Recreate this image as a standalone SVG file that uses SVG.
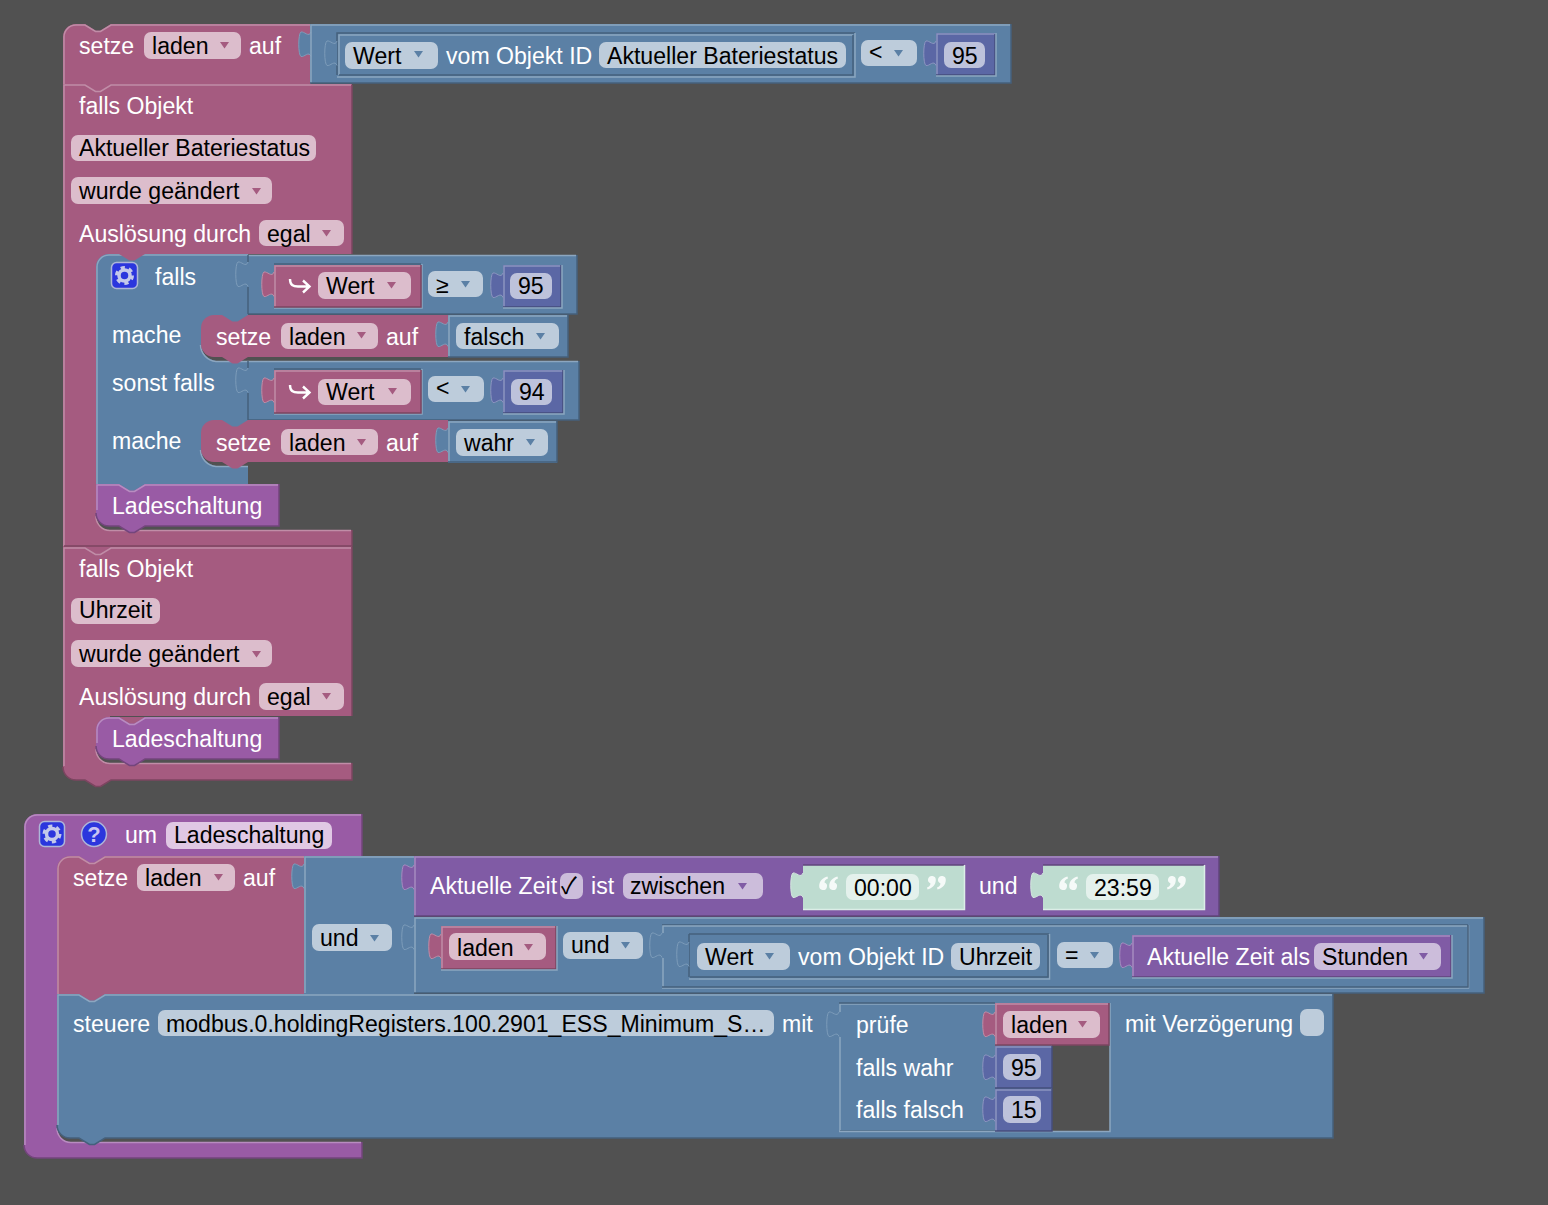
<svg xmlns="http://www.w3.org/2000/svg" width="1548" height="1205" viewBox="0 0 1548 1205">
<style>
text{font-family:"Liberation Sans",Arial,sans-serif;font-size:23.1px;white-space:pre}
.w{fill:#fff}.k{fill:#000}
.bg{fill:#515151}
.P{fill:#a55b80}.B{fill:#5b80a5}.U{fill:#995ba5}.V{fill:#805ba5}.N{fill:#5b67a5}.G{fill:#bedcd0}
.fP{fill:#dcbdcc}.fB{fill:#bdccdb}.fU{fill:#e0c8e4}.fV{fill:#ccbddb}.fN{fill:#bdc2db}.fG{fill:#e4f1ec}
.aP{fill:#a55b80}.aB{fill:#5b80a5}.aV{fill:#805ba5}.aU{fill:#995ba5}
.L,.D{fill:none;stroke-width:1.5}
.lP{stroke:#c08da7}.dP{stroke:#7c4560}.lB{stroke:#8ca6c0}.dB{stroke:#45607c}.lU{stroke:#b88cc0}.dU{stroke:#73457c}.lV{stroke:#a58cc0}.dV{stroke:#60457c}.lN{stroke:#8c95c0}.dN{stroke:#454d7c}.lG{stroke:#dcede7}.dG{stroke:#8fa59c}
.ic{fill:#2b36dd;stroke:#aeb6d8;stroke-width:1.5}
[href="#tab"]{stroke-width:1}
[href="#tab"].P{stroke:#c08da7}[href="#tab"].B{stroke:#7d9cba}[href="#tab"].V{stroke:#a58cc0}[href="#tab"].N{stroke:#8c95c0}[href="#tab"].G{stroke:#d5e7e0}
</style>
<defs>
<path id="tab" d="M0,0C-2,6 -7,-1 -10,0C-13,1.500 -13,23 -10,24.500C-7,25.500 -2,18.500 0,24.500"/>
<path id="notch" d="M0,0l10.500,6.500h5l10.500,-6.500z"/>
<path id="arr" d="M0,0h9l-4.500,6.500z"/>
<g id="gear">
<circle r="5.500" fill="none" stroke="#c4c9ea" stroke-width="3.500"/>
<circle r="8" fill="none" stroke="#c4c9ea" stroke-width="3" stroke-dasharray="4.200 4.200"/>
</g>
<path id="ret" d="M0,1c0,6 3,7.500 8,7.500h11M13,2.500l6.500,6 -6.500,6" fill="none" stroke="#fff" stroke-width="2.400"/>
<g id="qo" fill="#fff" fill-opacity=".85">
<path d="M0.200,10C0.200,5 4,1.500 8.500,0.500L9,2.500C6.500,3.500 5.500,5 5.500,6.500A3.900,3.900 0 1 1 0.200,10z"/>
<path d="M10.200,10C10.200,5 14,1.500 18.500,0.500L19,2.500C16.500,3.500 15.500,5 15.500,6.500A3.900,3.900 0 1 1 10.200,10z"/>
</g>
<use id="qc" href="#qo" transform="rotate(180 9.500 7)"/>
</defs>
<rect class="bg" width="1548" height="1205"/>

<g id="set-laden-top">
<path class="P" d="M63,37a13,13 0 0 1 13,-13H311V84H63z"/>
<use href="#notch" class="bg" x="85" y="24"/>
<path class="L lP" d="M64,84V37a12,12 0 0 1 12,-12H85l10.500,6.500h5l10.500,-6.500H310"/>
<text class="w" x="79" y="54">setze</text>
<rect class="fP" x="144" y="32" width="97" height="27" rx="7"/><text class="k" x="152" y="54">laden</text><use href="#arr" class="aP" x="220" y="42"/>
<text class="w" x="249" y="54">auf</text>
</g>
<g id="compare-top">
<rect class="B" x="310" y="24" width="701" height="59"/>
<use href="#tab" class="B" x="311" y="32"/>
<path class="L lB" d="M311,83V25H1010"/><path class="D dB" d="M1011,24V83H310"/>
<path class="D dB" d="M337,75V33H855"/><path class="L lB" d="M855,33V77H337"/>
<path class="L lB" d="M339,75V35H853"/><path class="D dB" d="M853,35V75H339"/>
<use href="#tab" class="B" x="337" y="41"/>
<rect class="fB" x="345" y="42" width="93" height="27" rx="7"/><text class="k" x="353" y="64">Wert</text><use href="#arr" class="aB" x="414" y="51"/>
<text class="w" x="446" y="64">vom Objekt ID</text>
<rect class="fB" x="599" y="42" width="247" height="26" rx="7"/><text class="k" x="607" y="64">Aktueller Bateriestatus</text>
<rect class="fB" x="861" y="40" width="56" height="26" rx="7"/><text class="k" x="869" y="60">&lt;</text><use href="#arr" class="aB" x="894" y="50"/>
<rect class="N" x="936" y="33" width="59" height="42"/><use href="#tab" class="N" x="936" y="41"/>
<path class="L lN" d="M937,75V34H995"/><path class="D dN" d="M995,34V75H936"/>
<path class="L lB" d="M996,33V76H936"/>
<rect class="fN" x="944" y="42" width="41" height="26" rx="7"/><text class="k" x="952" y="64">95</text>
</g>

<g id="event-bateriestatus">
<path class="P" d="M63,84H352V254H96V516a14,14 0 0 0 14,14H352V547H63z"/>
<rect class="P" x="96" y="254" width="14" height="14"/>
<path class="L lP" d="M64,546V85H85l10.500,6.500h5l10.500,-6.500H351"/><path class="D dP" d="M352,85V254M352,530V546H64"/>
<path class="L lP" d="M96,516a14,14 0 0 0 14,14.500H351"/>
<text class="w" x="79" y="114">falls Objekt</text>
<rect class="fP" x="71" y="135" width="245" height="26" rx="7"/><text class="k" x="79" y="156">Aktueller Bateriestatus</text>
<rect class="fP" x="71" y="177" width="201" height="27" rx="7"/><text class="k" x="79" y="199">wurde geändert</text><use href="#arr" class="aP" x="252" y="188"/>
<text class="w" x="79" y="242">Auslösung durch</text>
<rect class="fP" x="259" y="220" width="85" height="26" rx="7"/><text class="k" x="267" y="242">egal</text><use href="#arr" class="aP" x="322" y="230"/>
</g>
<g id="if-block">
<path class="B" d="M96,267a13,13 0 0 1 13,-13H248V484H96z"/>
<path class="L lB" d="M97,484V267a12,12 0 0 1 12,-12H248"/>
<use href="#notch" class="P" x="119" y="254"/>
<rect class="ic" x="111.500" y="262.500" width="26" height="26" rx="5"/><use href="#gear" x="124.500" y="275.500"/>
<text class="w" x="155" y="285">falls</text>
<text class="w" x="112" y="343">mache</text>
<text class="w" x="112" y="391">sonst falls</text>
<text class="w" x="112" y="449">mache</text>
</g>
<g id="cond-ge">
<rect class="B" x="248" y="255" width="329" height="59"/>
<use href="#tab" class="B" x="248" y="262"/>
<path class="L lB" d="M248,255.500H576"/><path class="D dB" d="M577,255V314H248M248,255V262M248,287V314"/>
<path class="D dB" d="M274,264H421"/><path class="L lB" d="M422,264V308H274"/>
<rect class="P" x="274" y="265" width="147" height="42"/><use href="#tab" class="P" x="274" y="272"/>
<path class="L lP" d="M275,307V266H421"/><path class="D dP" d="M421,265V307H274"/>
<use href="#ret" x="290" y="278"/>
<rect class="fP" x="318" y="272" width="93" height="27" rx="7"/><text class="k" x="326" y="294">Wert</text><use href="#arr" class="aP" x="387" y="282"/>
<rect class="fB" x="428" y="271" width="55" height="26" rx="7"/><text class="k" x="436" y="293">≥</text><use href="#arr" class="aB" x="461" y="281"/>
<rect class="N" x="503" y="265" width="58" height="42"/><use href="#tab" class="N" x="503" y="273"/>
<path class="L lN" d="M504,307V266H561"/><path class="D dN" d="M561,265V307H503"/><path class="L lB" d="M562,265V308H503"/>
<rect class="fN" x="510" y="273" width="42" height="26" rx="7"/><text class="k" x="518" y="294">95</text>
</g>
<g id="set-falsch">
<path class="bg" d="M201,344a17,17 0 0 0 15,17H248V350H201z"/>
<path class="L lB" d="M200.500,345a17,17 0 0 0 15.500,16.500H248"/>
<path class="P" d="M214,315H448V357H214a13,13 0 0 1 -13,-13V328a13,13 0 0 1 13,-13z"/>
<use href="#notch" class="B" x="222" y="315"/>
<use href="#notch" class="P" x="222" y="357"/>
<rect class="fP" x="281" y="323" width="97" height="26" rx="7"/><text class="k" x="289" y="345">laden</text><use href="#arr" class="aP" x="357" y="332"/>
<text class="w" x="216" y="345">setze</text><text class="w" x="386" y="345">auf</text>
<rect class="B" x="448" y="315" width="120" height="42"/><use href="#tab" class="B" x="448" y="322"/>
<path class="L lB" d="M449,357V316H567"/><path class="D dB" d="M568,315V357H448"/>
<rect class="fB" x="456" y="323" width="103" height="26" rx="7"/><text class="k" x="464" y="345">falsch</text><use href="#arr" class="aB" x="536" y="333"/>
</g>
<g id="cond-lt">
<rect class="B" x="248" y="361" width="331" height="59"/>
<use href="#tab" class="B" x="248" y="368"/>
<path class="L lB" d="M248,361.500H578"/><path class="D dB" d="M579,361V420H248M248,361V368M248,393V420"/>
<path class="D dB" d="M274,369H421"/><path class="L lB" d="M422,369V414H274"/>
<rect class="P" x="274" y="370" width="147" height="43"/><use href="#tab" class="P" x="274" y="378"/>
<path class="L lP" d="M275,413V371H421"/><path class="D dP" d="M421,370V413H274"/>
<use href="#ret" x="290" y="384"/>
<rect class="fP" x="318" y="379" width="93" height="26" rx="7"/><text class="k" x="326" y="400">Wert</text><use href="#arr" class="aP" x="388" y="388"/>
<rect class="fB" x="428" y="376" width="56" height="26" rx="7"/><text class="k" x="436" y="396">&lt;</text><use href="#arr" class="aB" x="461" y="386"/>
<rect class="N" x="503" y="370" width="60" height="43"/><use href="#tab" class="N" x="503" y="378"/>
<path class="L lN" d="M504,413V371H563"/><path class="D dN" d="M563,370V413H503"/><path class="L lB" d="M564,370V414H503"/>
<rect class="fN" x="511" y="379" width="41" height="26" rx="7"/><text class="k" x="519" y="400">94</text>
</g>
<g id="set-wahr">
<path class="bg" d="M201,449a17,17 0 0 0 15,17H248V455H201z"/>
<path class="L lB" d="M200.500,450a17,17 0 0 0 15.500,16.500H248"/>
<path class="P" d="M214,420H448V462H214a13,13 0 0 1 -13,-13V433a13,13 0 0 1 13,-13z"/>
<use href="#notch" class="B" x="222" y="420"/>
<use href="#notch" class="P" x="222" y="462"/>
<text class="w" x="216" y="451">setze</text>
<rect class="fP" x="281" y="429" width="97" height="26" rx="7"/><text class="k" x="289" y="451">laden</text><use href="#arr" class="aP" x="357" y="439"/>
<text class="w" x="386" y="451">auf</text>
<rect class="B" x="448" y="421" width="109" height="42"/><use href="#tab" class="B" x="448" y="428"/>
<path class="L lB" d="M449,462V422H556"/><path class="D dB" d="M557,421V462H448"/>
<rect class="fB" x="456" y="429" width="92" height="27" rx="7"/><text class="k" x="464" y="451">wahr</text><use href="#arr" class="aB" x="526" y="439"/>
</g>
<g id="call-ladeschaltung-1">
<path class="U" d="M96,484H279V526H109a13,13 0 0 1 -13,-13z"/>
<use href="#notch" class="B" x="119" y="484"/>
<use href="#notch" class="U" x="119" y="526"/>
<path class="L lU" d="M97,510V485H119l10.500,6.500h5L145,485H278"/>
<path class="D dU" d="M279,484V526H145l-10.500,6.500h-5L119,526H109a13,13 0 0 1 -13,-13"/>
<text class="w" x="112" y="514">Ladeschaltung</text>
</g>
<use href="#notch" class="P" x="85" y="547"/>

<g id="event-uhrzeit">
<path class="P" d="M63,547H352V716H96V749a14,14 0 0 0 14,14H352V780H76a13,13 0 0 1 -13,-13z"/>
<rect class="P" x="96" y="716" width="14" height="14"/>
<use href="#notch" class="P" x="85" y="547"/>
<use href="#notch" class="P" x="85" y="780"/>
<path class="L lP" d="M64,766V548H85l10.500,6.500h5L111,548H351"/><path class="D dP" d="M352,547V716M352,763V780H111l-10.500,6.500h-5L85,780H76a13,13 0 0 1 -13,-13"/>
<path class="L lP" d="M96,749a14,14 0 0 0 14,14.500H351"/>
<text class="w" x="79" y="577">falls Objekt</text>
<rect class="fP" x="71" y="598" width="89" height="26" rx="7"/><text class="k" x="79" y="618">Uhrzeit</text>
<rect class="fP" x="71" y="640" width="201" height="27" rx="7"/><text class="k" x="79" y="662">wurde geändert</text><use href="#arr" class="aP" x="252" y="651"/>
<text class="w" x="79" y="705">Auslösung durch</text>
<rect class="fP" x="259" y="683" width="85" height="27" rx="7"/><text class="k" x="267" y="705">egal</text><use href="#arr" class="aP" x="322" y="693"/>
</g>
<g id="call-ladeschaltung-2">
<path class="U" d="M109,717H279V759H109a13,13 0 0 1 -13,-13V730a13,13 0 0 1 13,-13z"/>
<use href="#notch" class="P" x="119" y="717"/>
<use href="#notch" class="U" x="119" y="759"/>
<path class="L lU" d="M97,743V730a12,12 0 0 1 12,-12H119l10.500,6.500h5L145,718H278"/>
<path class="D dU" d="M279,717V759H145l-10.500,6.500h-5L119,759H109a13,13 0 0 1 -13,-13"/>
<text class="w" x="112" y="747">Ladeschaltung</text>
</g>

<g id="procedure">
<path class="U" d="M37,814H362V856H57V1128a14,14 0 0 0 14,14H362V1158H37a13,13 0 0 1 -13,-13V827a13,13 0 0 1 13,-13z"/>
<rect class="U" x="57" y="856" width="14" height="14"/>
<path class="L lU" d="M25,1145V827a12,12 0 0 1 12,-12H361"/><path class="D dU" d="M362,814V856M362,1142V1158H37a13,13 0 0 1 -13,-13"/>
<path class="L lU" d="M57,1128a14,14 0 0 0 14,14.500H361"/>
<rect class="ic" x="39.500" y="821.500" width="25" height="25" rx="5"/><use href="#gear" x="52" y="834"/>
<circle class="ic" cx="94" cy="834" r="12.500"/>
<text x="94" y="842" text-anchor="middle" font-weight="bold" style="font-size:22px;fill:#c9c5f2">?</text>
<text class="w" x="125" y="843">um</text>
<rect class="fU" x="166" y="822" width="166" height="27" rx="7"/><text class="k" x="174" y="843">Ladeschaltung</text>
</g>
<g id="set-laden-inner">
<path class="P" d="M70,856H304V994H57V869a13,13 0 0 1 13,-13z"/>
<use href="#notch" class="U" x="79" y="856"/>
<path class="L lP" d="M58,994V869a12,12 0 0 1 12,-12H79l10.500,6.500h5L105,857H304"/>
<text class="w" x="73" y="886">setze</text>
<rect class="fP" x="137" y="864" width="98" height="27" rx="7"/><text class="k" x="145" y="886">laden</text><use href="#arr" class="aP" x="214" y="874"/>
<text class="w" x="243" y="886">auf</text>
</g>
<g id="logic-und">
<rect class="B" x="304" y="856" width="110" height="138"/><use href="#tab" class="B" x="304" y="864"/>
<path class="L lB" d="M305,993V857H414"/>
<rect class="fB" x="312" y="924" width="80" height="27" rx="7"/><text class="k" x="320" y="946">und</text><use href="#arr" class="aB" x="370" y="935"/>
</g>
<g id="time-compare">
<rect class="V" x="414" y="856" width="805" height="60"/><use href="#tab" class="V" x="414" y="865"/>
<path class="L lV" d="M415,916V857H1218"/><path class="D dV" d="M1219,856V916H414"/>
<text class="w" x="430" y="894">Aktuelle Zeit</text>
<rect class="fV" x="560" y="873" width="23" height="26" rx="7"/>
<text class="k" x="561" y="894" style="font-family:'Noto Sans CJK JP','DejaVu Sans',sans-serif">✓</text>
<text class="w" x="591" y="894">ist</text>
<rect class="fV" x="623" y="873" width="140" height="26" rx="7"/><text class="k" x="630" y="894">zwischen</text><use href="#arr" class="aV" x="738" y="883"/>
<text class="w" x="979" y="894">und</text>
<rect class="G" x="803" y="865" width="161" height="44"/><use href="#tab" class="G" x="803" y="873"/>
<path class="D dV" d="M803,865H964"/><path class="L lG" d="M964.500,865V909.500H803"/>
<use href="#qo" x="819" y="876"/>
<rect class="fG" x="846" y="874" width="73" height="26" rx="7"/><text class="k" x="854" y="896">00:00</text>
<use href="#qc" x="927" y="876"/>
<rect class="G" x="1043" y="865" width="161" height="44"/><use href="#tab" class="G" x="1043" y="873"/>
<path class="D dV" d="M1043,865H1204"/><path class="L lG" d="M1204.500,865V909.500H1043"/>
<use href="#qo" x="1059" y="876"/>
<rect class="fG" x="1086" y="874" width="73" height="26" rx="7"/><text class="k" x="1094" y="896">23:59</text>
<use href="#qc" x="1167" y="876"/>
</g>
<g id="logic-und-2">
<rect class="B" x="414" y="917" width="1070" height="76"/>
<use href="#tab" class="B" x="414" y="925"/>
<path class="L lB" d="M415,993V918H1483"/><path class="D dB" d="M1484,917V993H414"/>
<rect class="P" x="441" y="926" width="115" height="43"/><use href="#tab" class="P" x="441" y="934"/>
<path class="L lP" d="M442,969V927H556"/><path class="D dP" d="M556,926V969H441"/><path class="L lB" d="M557,926V970H441"/>
<rect class="fP" x="449" y="933" width="97" height="27" rx="7"/><text class="k" x="457" y="956">laden</text><use href="#arr" class="aP" x="524" y="944"/>
<rect class="fB" x="563" y="932" width="80" height="27" rx="7"/><text class="k" x="571" y="953">und</text><use href="#arr" class="aB" x="621" y="942"/>
<path class="D dB" d="M662,925H1468"/><path class="L lB" d="M1468.500,925V988H662"/>
<use href="#tab" class="B" x="662" y="933"/>
<path class="L lB" d="M663,987V958M663,933V926H1467"/><path class="D dB" d="M1468,925V987H662"/>
<path class="D dB" d="M689,934H1049M689,934V977"/><path class="L lB" d="M1049.500,934V979H689"/>
<use href="#tab" class="B" x="689" y="942"/>
<path class="D dB" d="M1048,935V977H690"/>
<rect class="fB" x="697" y="943" width="93" height="27" rx="7"/><text class="k" x="705" y="965">Wert</text><use href="#arr" class="aB" x="765" y="953"/>
<text class="w" x="798" y="965">vom Objekt ID</text>
<rect class="fB" x="951" y="943" width="89" height="27" rx="7"/><text class="k" x="959" y="965">Uhrzeit</text>
<rect class="fB" x="1057" y="942" width="56" height="26" rx="7"/><text class="k" x="1065" y="963">=</text><use href="#arr" class="aB" x="1090" y="952"/>
<rect class="V" x="1132" y="935" width="319" height="42"/><use href="#tab" class="V" x="1132" y="943"/>
<path class="L lV" d="M1133,977V936H1450"/><path class="D dV" d="M1451,935V977H1132"/><path class="L lB" d="M1452,935V978H1132"/>
<text class="w" x="1147" y="965">Aktuelle Zeit als</text>
<rect class="fV" x="1314" y="943" width="127" height="27" rx="7"/><text class="k" x="1322" y="965">Stunden</text><use href="#arr" class="aV" x="1419" y="953"/>
</g>
<g id="control">
<path class="B" d="M57,994H1333V1138H70a13,13 0 0 1 -13,-13z"/>
<use href="#notch" class="P" x="79" y="994"/>
<use href="#notch" class="B" x="79" y="1138"/>
<path class="L lB" d="M58,1125V995H79l10.500,6.500h5L105,995H1332"/>
<path class="D dB" d="M1333,994V1138H105l-10.500,6.500h-5L79,1138H70a13,13 0 0 1 -13,-13"/>
<text class="w" x="73" y="1032">steuere</text>
<rect class="fB" x="158" y="1010" width="616" height="26" rx="7"/><text class="k" x="166" y="1032">modbus.0.holdingRegisters.100.2901_ESS_Minimum_S…</text>
<text class="w" x="782" y="1032">mit</text>
<text class="w" x="1125" y="1032">mit Verzögerung</text>
<rect class="fB" x="1300" y="1009" width="24" height="27" rx="7"/>
</g>
<g id="ternary">
<rect class="bg" x="1052" y="1045" width="58" height="86"/>
<rect class="B" x="839" y="1003" width="156" height="128"/><use href="#tab" class="B" x="839" y="1012"/>
<path class="L lB" d="M840,1131V1037M840,1012V1004H995"/><path class="D dB" d="M839,1003H995"/><path class="D dB" d="M995,1131H840"/>
<path class="L lB" d="M1110,1003V1131.500H839"/>
<text class="w" x="856" y="1033">prüfe</text>
<text class="w" x="856" y="1076">falls wahr</text>
<text class="w" x="856" y="1118">falls falsch</text>
<rect class="P" x="995" y="1003" width="114" height="42"/><use href="#tab" class="P" x="995" y="1012"/>
<path class="L lP" d="M996,1045V1004H1108"/><path class="D dP" d="M1109,1003V1045H995"/>
<rect class="fP" x="1003" y="1011" width="97" height="27" rx="7"/><text class="k" x="1011" y="1033">laden</text><use href="#arr" class="aP" x="1078" y="1021"/>
<rect class="N" x="995" y="1046" width="57" height="42"/><use href="#tab" class="N" x="995" y="1055"/>
<path class="L lN" d="M996,1088V1047H1052"/><path class="D dN" d="M1052,1046V1088H995"/>
<rect class="fN" x="1003" y="1054" width="38" height="26" rx="7"/><text class="k" x="1011" y="1076">95</text>
<rect class="N" x="995" y="1089" width="57" height="42"/><use href="#tab" class="N" x="995" y="1097"/>
<path class="L lN" d="M996,1131V1090H1052"/><path class="D dN" d="M1052,1089V1131H995"/>
<rect class="fN" x="1003" y="1096" width="38" height="27" rx="7"/><text class="k" x="1011" y="1118">15</text>
</g>
</svg>
